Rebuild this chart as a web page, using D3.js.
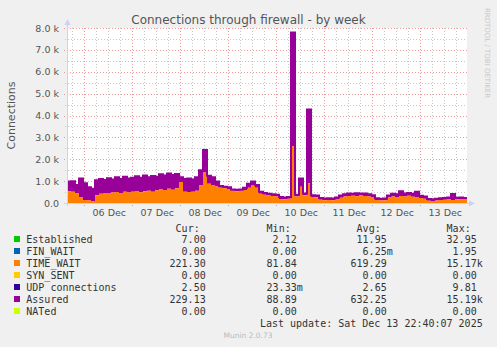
<!DOCTYPE html>
<html>
<head>
<meta charset="utf-8">
<script src="https://cdn.jsdelivr.net/npm/d3@7"></script>
<style>
  html, body { margin: 0; padding: 0; background: #F0F0F0; }
  svg { display: block; }
</style>
</head>
<body>
<div id="chart"></div>
<script>
// time window of the week graph (400 px, 30 min per px)
const viewStart = Date.UTC(2025, 11, 5, 15, 20);
const viewEnd = Date.UTC(2025, 11, 13, 23, 20);
const stepHours = 2;

// TIME_WAIT (orange) and Assured (purple), one value per 2 hours
const timeWait = [540, 520, 430, 280, 140, 110, 90, 350, 420, 460,
  440, 480, 500, 460, 520, 480, 510, 550, 490, 540,
  560, 520, 580, 620, 590, 650, 610, 680, 960, 520,
  500, 520, 560, 820, 1400, 880, 820, 760, 700, 680,
  640, 560, 540, 560, 600, 700, 820, 700, 420, 380,
  340, 320, 300, 180, 170, 190, 2600, 300, 740, 360,
  900, 280, 260, 150, 130, 140, 130, 160, 240, 300,
  320, 330, 310, 340, 320, 300, 270, 140, 110, 130,
  250, 300, 280, 320, 300, 330, 290, 280, 230, 200,
  100, 90, 110, 140, 150, 160, 140, 170, 180, 221];
const assured = [980, 1000, 820, 1120, 900, 720, 650, 1040, 1100, 1050,
  1130, 1080, 1180, 1100, 1200, 1120, 1160, 1220, 1150, 1260,
  1180, 1240, 1200, 1320, 1260, 1350, 1280, 1330, 1180, 1100,
  1120, 1080, 1180, 1500, 2420, 1250, 1180, 980, 780, 740,
  720, 620, 610, 620, 700, 880, 980, 820, 520, 460,
  420, 400, 380, 270, 250, 280, 7800, 380, 1120, 440,
  4280, 360, 340, 230, 210, 220, 210, 250, 340, 400,
  440, 420, 450, 430, 440, 400, 360, 220, 200, 210,
  340, 420, 400, 540, 440, 460, 420, 520, 330, 300,
  180, 170, 190, 220, 230, 250, 410, 240, 250, 229];

const yTicks = [0, 1000, 2000, 3000, 4000, 5000, 6000, 7000, 8000];
const yTickLabels = ["0.0", "1.0 k", "2.0 k", "3.0 k", "4.0 k", "5.0 k", "6.0 k", "7.0 k", "8.0 k"];
const dayLabels = ["06 Dec", "07 Dec", "08 Dec", "09 Dec", "10 Dec", "11 Dec", "12 Dec", "13 Dec"];

// legend
const seriesNames = ["Established", "FIN_WAIT", "TIME_WAIT", "SYN_SENT", "UDP connections", "Assured", "NATed"];
const seriesColors = ["#00CC00", "#0066B3", "#FF8000", "#FFCC00", "#330099", "#990099", "#CCFF00"];
const curVals = ["7.00", "0.00", "221.30", "0.00", "2.50", "229.13", "0.00"];
const minVals = ["2.12", "0.00", "81.84", "0.00", "23.33m", "88.89", "0.00"];
const avgVals = ["11.95", "6.25m", "619.29", "0.00", "2.65", "632.25", "0.00"];
const maxVals = ["32.95", "1.95", "15.17k", "0.00", "9.81", "15.19k", "0.00"];

const W = 497, H = 347;
const plotL = 67, plotR = 467, plotT = 28, plotB = 203;

const svg = d3.select("#chart").append("svg")
    .attr("width", W)
    .attr("height", H);

svg.append("rect").attr("width", W).attr("height", H).attr("fill", "#F0F0F0");
svg.append("rect")
    .attr("x", plotL).attr("y", plotT)
    .attr("width", plotR - plotL).attr("height", plotB - plotT)
    .attr("fill", "#FFFFFF");

const x = d3.scaleUtc().domain([viewStart, viewEnd]).range([plotL, plotR]);
const y = d3.scaleLinear().domain([0, 8000]).range([plotB, plotT]);

// grid
const grid = svg.append("g");
const minorX = d3.utcHour.every(6).range(new Date(viewStart), new Date(viewEnd))
    .filter(d => d.getUTCHours() !== 0);
const majorX = d3.utcDay.range(new Date(viewStart), new Date(viewEnd));
const minorY = d3.range(500, 8000, 1000);

grid.selectAll(".mx").data(minorX).join("line")
    .attr("x1", d => Math.round(x(d)) + 0.5).attr("x2", d => Math.round(x(d)) + 0.5)
    .attr("y1", plotT).attr("y2", plotB + 2)
    .attr("stroke", "#C8C8C8").attr("stroke-dasharray", "1,2");
grid.selectAll(".my").data(minorY).join("line")
    .attr("x1", plotL - 2).attr("x2", plotR)
    .attr("y1", d => Math.round(y(d)) + 0.5).attr("y2", d => Math.round(y(d)) + 0.5)
    .attr("stroke", "#C8C8C8").attr("stroke-dasharray", "1,2");
grid.selectAll(".Mx").data(majorX).join("line")
    .attr("x1", d => Math.round(x(d)) + 0.5).attr("x2", d => Math.round(x(d)) + 0.5)
    .attr("y1", plotT).attr("y2", plotB + 3)
    .attr("stroke", "#EE9A9A").attr("stroke-dasharray", "1,2");
grid.selectAll(".My").data(yTicks.slice(1)).join("line")
    .attr("x1", plotL - 3).attr("x2", plotR)
    .attr("y1", d => Math.round(y(d)) + 0.5).attr("y2", d => Math.round(y(d)) + 0.5)
    .attr("stroke", "#EE9A9A").attr("stroke-dasharray", "1,2");

// data points, step shaped
const pts = timeWait.map((v, i) => ({
  t: viewStart + i * stepHours * 3600e3,
  tw: v,
  as: assured[i]
}));
pts.push({ t: viewEnd, tw: timeWait[timeWait.length - 1], as: assured[assured.length - 1] });

svg.append("path").datum(pts)
    .attr("fill", "#990099")
    .attr("d", d3.area().curve(d3.curveStepAfter)
      .x(d => x(d.t)).y0(d => y(d.tw)).y1(d => y(Math.max(d.as, d.tw))));
svg.append("path").datum(pts)
    .attr("fill", "#FF8000")
    .attr("d", d3.area().curve(d3.curveStepAfter)
      .x(d => x(d.t)).y0(y(0)).y1(d => y(d.tw)));
svg.append("path").datum(pts)
    .attr("fill", "none").attr("stroke", "#990099").attr("stroke-width", 2)
    .attr("d", d3.line().curve(d3.curveStepAfter)
      .x(d => x(d.t)).y(d => y(d.as)));

// axes
const axisColor = "#CCD2F6";
svg.append("line").attr("x1", plotL - 3).attr("x2", plotR + 4)
    .attr("y1", plotB + 0.5).attr("y2", plotB + 0.5).attr("stroke", axisColor);
svg.append("line").attr("x1", plotL + 0.5).attr("x2", plotL + 0.5)
    .attr("y1", plotB + 3).attr("y2", plotT - 5).attr("stroke", axisColor);
svg.append("path").attr("d", `M${plotR + 8},${plotB + 0.5} L${plotR + 2},${plotB - 2.5} L${plotR + 2},${plotB + 3.5} Z`)
    .attr("fill", axisColor);
svg.append("path").attr("d", `M${plotL + 0.5},${plotT - 9} L${plotL - 2.5},${plotT - 3} L${plotL + 3.5},${plotT - 3} Z`)
    .attr("fill", axisColor);

// y labels
svg.selectAll(".yl").data(yTicks).join("text")
    .attr("x", 59).attr("y", d => y(d) + 3.5)
    .attr("text-anchor", "end")
    .attr("font-family", "DejaVu Sans").attr("font-size", "9.5px")
    .attr("fill", "#555")
    .text((d, i) => yTickLabels[i]);

// x labels at noon
svg.selectAll(".xl").data(majorX).join("text")
    .attr("x", d => x(d.getTime() + 12 * 3600e3) + 1).attr("y", 216)
    .attr("text-anchor", "middle")
    .attr("font-family", "DejaVu Sans").attr("font-size", "9.5px")
    .attr("fill", "#555")
    .text((d, i) => dayLabels[i]);

// title and side texts
svg.append("text").attr("x", 248.5).attr("y", 24)
    .attr("text-anchor", "middle")
    .attr("font-family", "DejaVu Sans").attr("font-size", "12px")
    .attr("fill", "#555")
    .text("Connections through firewall - by week");

svg.append("text")
    .attr("transform", `translate(15,${(plotT + plotB) / 2}) rotate(-90)`)
    .attr("text-anchor", "middle")
    .attr("font-family", "DejaVu Sans").attr("font-size", "11px")
    .attr("fill", "#555")
    .text("Connections");

svg.append("text")
    .attr("transform", "translate(485,53) rotate(90)")
    .attr("text-anchor", "middle")
    .attr("font-family", "DejaVu Sans").attr("font-size", "7px")
    .attr("fill", "#C8C8C8")
    .text("RRDTOOL / TOBI OETIKER");

// legend
const mono = "DejaVu Sans Mono";
const colEnds = [205.7, 296.7, 386.7, 476.7];
const headers = ["Cur:", "Min:", "Avg:", "Max:"];
const leg = svg.append("g").attr("font-family", mono).attr("font-size", "10px").attr("fill", "#333");

headers.forEach((h, j) => {
  leg.append("text").attr("x", colEnds[j] - 6).attr("y", 231.5)
      .attr("text-anchor", "end").text(h);
});

const columns = [curVals, minVals, avgVals, maxVals];
seriesNames.forEach((name, i) => {
  const yy = 243 + i * 12;
  leg.append("rect").attr("x", 14).attr("y", yy - 7).attr("width", 6).attr("height", 6)
      .attr("fill", seriesColors[i]);
  leg.append("text").attr("x", 26.3).attr("y", yy).text(name);
  columns.forEach((col, j) => {
    const s = col[i];
    const m = s.match(/^([\d.]+)([a-zA-Z]?)$/);
    leg.append("text").attr("x", colEnds[j]).attr("y", yy)
        .attr("text-anchor", "end").text(m[1]);
    if (m[2]) leg.append("text").attr("x", colEnds[j]).attr("y", yy).text(m[2]);
  });
});

leg.append("text").attr("x", 482.7).attr("y", 327)
    .attr("text-anchor", "end")
    .text("Last update: Sat Dec 13 22:40:07 2025");

svg.append("text").attr("x", 248).attr("y", 338)
    .attr("text-anchor", "middle")
    .attr("font-family", "DejaVu Sans").attr("font-size", "7.5px")
    .attr("fill", "#BBBBBB")
    .text("Munin 2.0.73");
</script>
</body>
</html>
